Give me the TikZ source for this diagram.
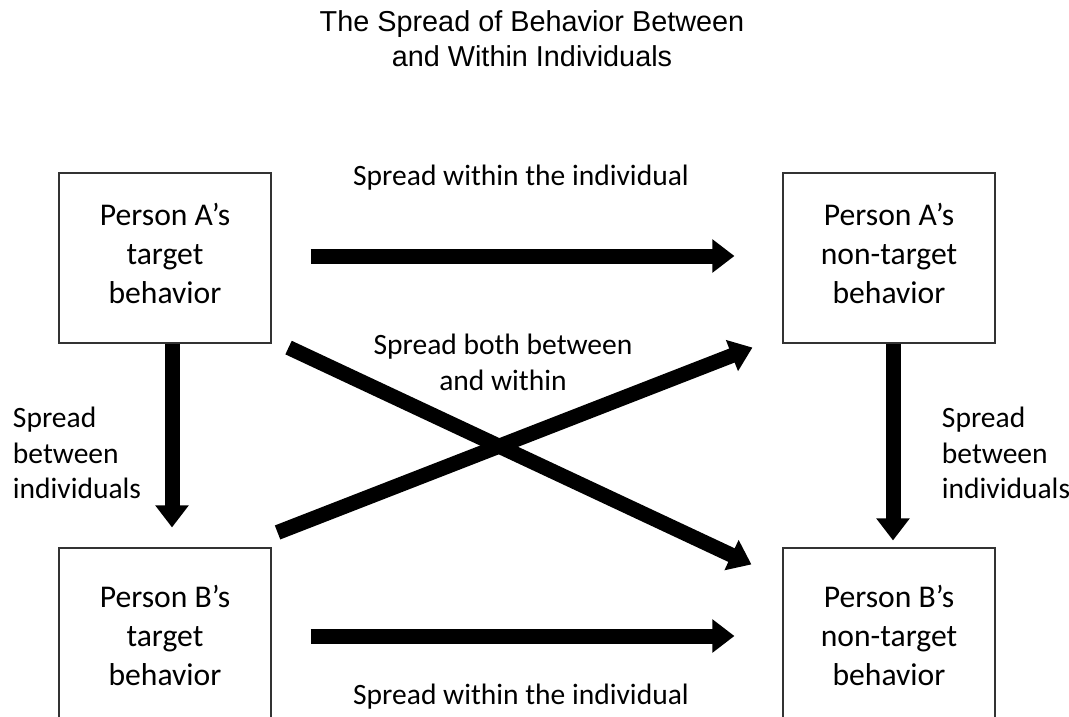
\documentclass[tikz,border=0pt]{standalone}
\usepackage{fontspec}
\setmainfont{Carlito}
\newfontfamily\titlefont{Liberation Sans}
\usetikzlibrary{arrows.meta,positioning}
\definecolor{boxline}{HTML}{333333}

\begin{document}
\begin{tikzpicture}[
    behavbox/.style={draw=boxline, line width=0.8pt, minimum width=5.3cm,
      minimum height=4.25cm, align=center, text depth=0.25cm,
      font=\fontsize{22.5}{27.8}\selectfont},
    spreadlabel/.style={align=center, font=\fontsize{21}{25.5}\selectfont},
    bigarrow/.style={line width=0.375cm, line cap=butt,
      -{Triangle[length=0.55cm, width=0.8cm]}}
  ]

  % ---- Canvas ----
  \useasboundingbox (0,0) rectangle (26.725,-17.925);
  \clip (0,0) rectangle (26.725,-17.925);

  % ---- Title ----
  \node[align=center, font=\titlefont\fontsize{20.5}{24.8}\selectfont] (title)
    at (13.3,-0.975)
    {The Spread of Behavior Between\\and Within Individuals};

  % ---- Behaviour boxes ----
  \node[behavbox] (atarget)    at (4.125,-6.45)  {Person A’s\\target\\behavior};
  \node[behavbox] (anontarget) at (22.225,-6.45) {Person A’s\\non-target\\behavior};
  \node[behavbox, minimum height=4.6cm] (btarget)    at (4.125,-16.0)
    {Person B’s\\target\\behavior};
  \node[behavbox, minimum height=4.6cm] (bnontarget) at (22.225,-16.0)
    {Person B’s\\non-target\\behavior};

  % ---- Within the individual (horizontal) ----
  \draw[bigarrow, shorten <=0.975cm, shorten >=1.2cm]
    ([yshift=0.05cm]atarget.east) -- ([yshift=0.05cm]anontarget.west);
  \draw[bigarrow, shorten <=0.975cm, shorten >=1.2cm]
    ([yshift=0.1cm]btarget.east) -- ([yshift=0.1cm]bnontarget.west);

  % ---- Between individuals (vertical) ----
  \draw[bigarrow, shorten >=0.5cm]
    ([xshift=0.175cm]atarget.south) -- ([xshift=0.175cm]btarget.north);
  \draw[bigarrow, shorten >=0.175cm]
    ([xshift=0.1cm]anontarget.south) -- ([xshift=0.1cm]bnontarget.north);

  % ---- Both between and within (diagonal) ----
  \draw[bigarrow]
    ([shift={(0.425,-0.1)}]atarget.south east) --
    ([shift={(-0.775,-0.425)}]bnontarget.north west);
  \draw[bigarrow]
    ([shift={(0.15,0.375)}]btarget.north east) --
    ([shift={(-0.75,-0.1)}]anontarget.south west);

  % ---- Labels ----
  \node[spreadlabel] (withintop) at (13.025,-4.45)  {Spread within the individual};
  \node[spreadlabel] (withinbot) at (13.025,-17.425){Spread within the individual};
  \node[spreadlabel] (both)      at (12.575,-9.05)  {Spread both between\\and within};
  \node[spreadlabel, align=left, anchor=west] (betweenl) at (0.2,-11.325)
    {Spread\\between\\individuals};
  \node[spreadlabel, align=left, anchor=west] (betweenr) at (23.425,-11.325)
    {Spread\\between\\individuals};

\end{tikzpicture}
\end{document}
